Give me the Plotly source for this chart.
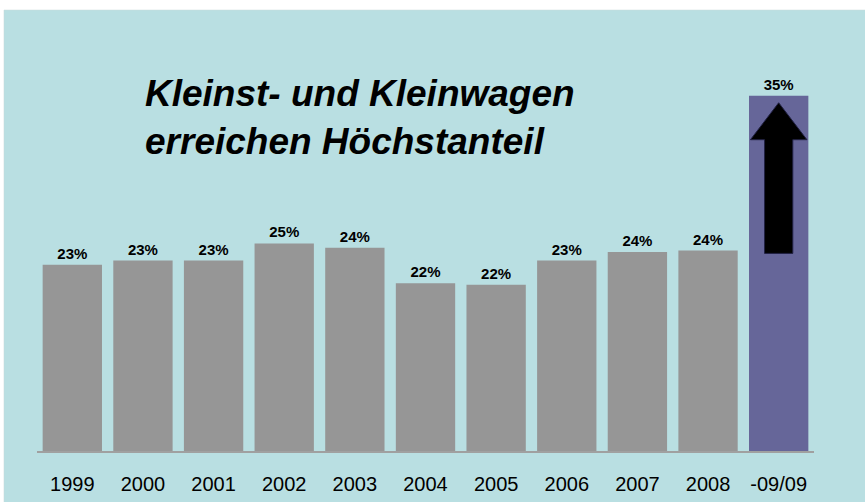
import plotly.graph_objects as go

years = ["1999", "2000", "2001", "2002", "2003", "2004", "2005", "2006", "2007", "2008", "-09/09"]
share = [23.1, 23.4, 23.4, 24.6, 24.3, 21.8, 21.7, 23.4, 24.0, 24.1, 35.0]
bar_colors = ["#969696"] * 10 + ["#666699"]

x_pos = list(range(len(years)))

fig = go.Figure()
fig.add_trace(go.Bar(
    x=x_pos, y=share,
    marker_color=bar_colors, marker_line_width=0,
    width=0.84,
    text=share, texttemplate="%{y:.0f}%", textposition="outside",
    textfont=dict(family="Liberation Sans, Arial", size=15, color="black", weight="bold"),
    cliponaxis=False,
))

# light blue panel behind everything (white strip at top/left as in reference)
fig.add_shape(type="rect", xref="paper", yref="paper",
              x0=-0.0425, x1=1.07, y0=-0.13, y1=1.108,
              fillcolor="#b9dfe2", line=dict(color="#c8d8da", width=0.5), layer="below")

# big up arrow inside the last bar
xc = 10
fig.add_shape(type="path", xref="x", yref="y",
              path=f"M {xc-0.2} 23.9 L {xc-0.2} 31.9 L {xc-0.4} 31.9 L {xc} 34.5 "
                   f"L {xc+0.4} 31.9 L {xc+0.2} 31.9 L {xc+0.2} 23.9 Z",
              fillcolor="black", line=dict(color="#222244", width=1))

fig.add_annotation(xref="paper", yref="paper", x=0.1364, y=0.839,
                   xanchor="left", yanchor="middle", showarrow=False, align="left",
                   text="<b><i>Kleinst- und Kleinwagen<br>erreichen Höchstanteil</i></b>",
                   font=dict(family="Liberation Sans, Arial", size=37, color="black"))

fig.update_layout(
    width=865, height=502,
    margin=dict(l=37, r=51, t=53, b=51, autoexpand=False),
    paper_bgcolor="white", plot_bgcolor="rgba(0,0,0,0)",
    showlegend=False,
    bargap=0.16,
    xaxis=dict(tickmode="array", tickvals=x_pos, ticktext=years,
               range=[-0.5, 10.5], showgrid=False, zeroline=False,
               showline=True, linecolor="#a0a0a0", linewidth=1.5, ticks="",
               ticklabelstandoff=14,
               tickfont=dict(family="Liberation Sans, Arial", size=20, color="black")),
    yaxis=dict(range=[10, 38], visible=False, showgrid=False),
    font=dict(family="Liberation Sans, Arial"),
)

fig.write_html("out.html", config={"displayModeBar": False},
               post_script="document.body.style.margin='0';")
